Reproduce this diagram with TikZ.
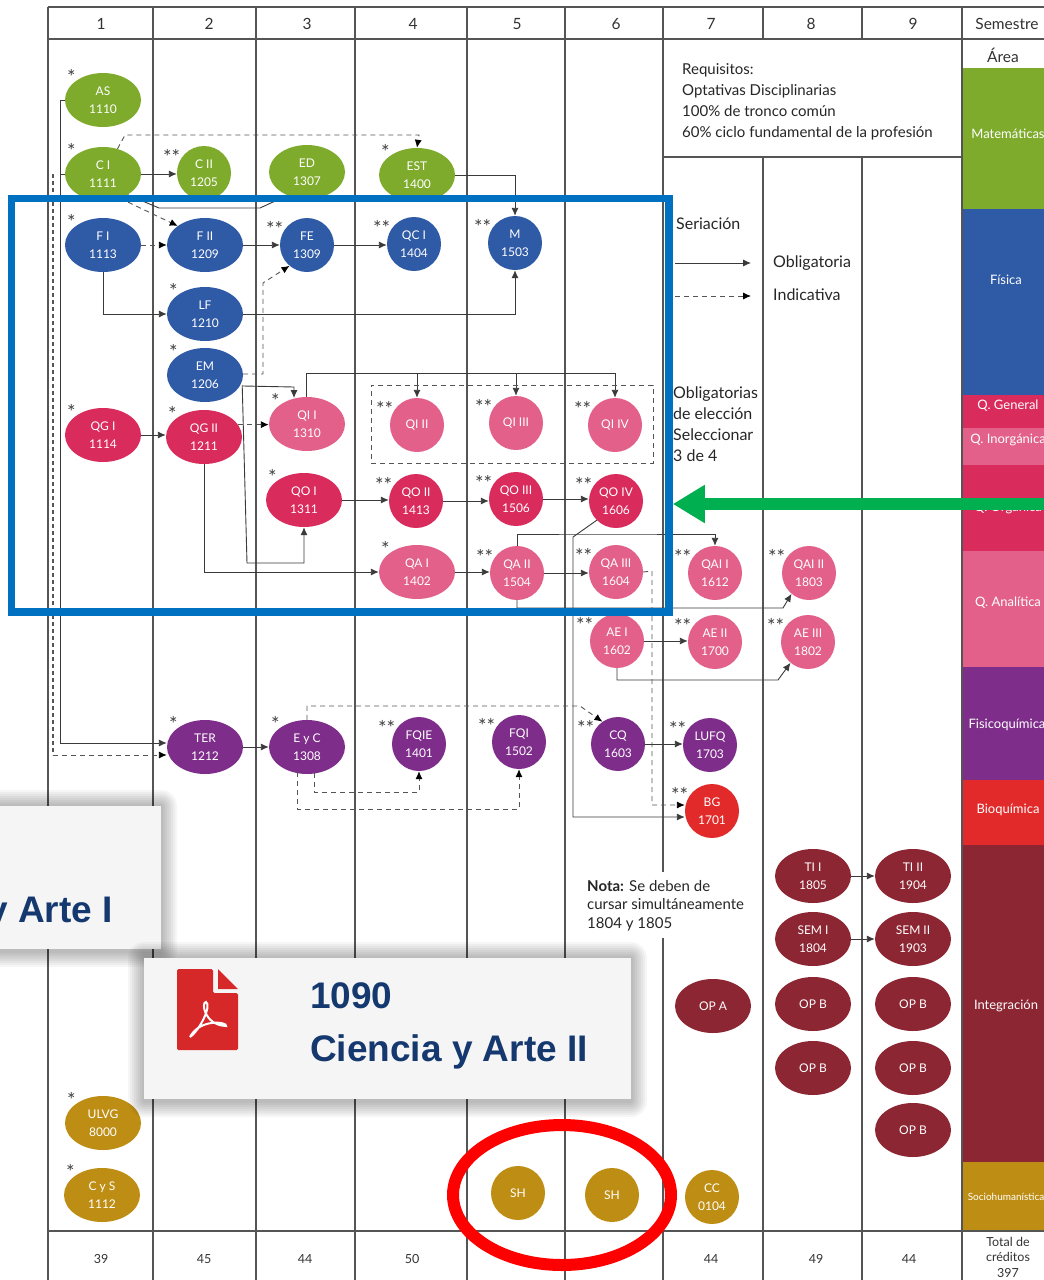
\documentclass[tikz,border=0pt]{standalone}
\usepackage{fontspec}
\setmainfont{Lato}
\newfontfamily\cardfont{Liberation Sans}
\usetikzlibrary{calc}
\usetikzlibrary{arrows.meta}
\usetikzlibrary{shapes.geometric}

\definecolor{matcol}{HTML}{7EAB2C}
\definecolor{fiscol}{HTML}{2F5AA6}
\definecolor{qgcol}{HTML}{D92B5C}
\definecolor{qpcol}{HTML}{E2608A}
\definecolor{fqcol}{HTML}{7E2E8A}
\definecolor{bqcol}{HTML}{E22A2B}
\definecolor{intcol}{HTML}{8C2633}
\definecolor{socol}{HTML}{BE8E14}
\definecolor{gridcol}{HTML}{555555}
\definecolor{linecol}{HTML}{3A3A3A}
\definecolor{cardtxt}{HTML}{15396F}
\definecolor{focusblue}{HTML}{0070C0}
\definecolor{focusgreen}{HTML}{00B050}

\tikzset{
    gridline/.style={gridcol, line width=1.2pt},
    oblig/.style={linecol, line width=0.9pt, -{Latex[length=8pt,width=7pt]}},
    indic/.style={gridcol, line width=0.9pt, dash pattern=on 5pt off 4pt, -{Latex[length=8pt,width=7pt,black]}},
    plainline/.style={linecol, line width=0.9pt},
    wideov/.style={ellipse, minimum width=76pt, minimum height=54pt, inner sep=0pt, text=white, align=center, font=\fontsize{12}{18.5}\selectfont},
    roundov/.style={wideov, minimum width=54pt},
    stars/.style={font=\fontsize{20}{20}\selectfont, text=black!75, inner sep=0pt},
    onestar/.style={label={[stars, label distance=-3pt]150:*}},
    twostar/.style={label={[stars, label distance=-2pt]160:**}},
    headtxt/.style={inner sep=0pt, text=black!80, font=\fontsize{15.5}{15.5}\selectfont},
    sumtxt/.style={inner sep=0pt, text=black!80, font=\fontsize{12.5}{12.5}\selectfont},
    areatxt/.style={inner sep=0pt, text=white, font=\fontsize{13}{13}\selectfont},
    notetxt/.style={inner sep=0pt, anchor=north west, align=left, text=black!85},
    cardbox/.style={rectangle, fill=black!4, inner sep=0pt},
    cardlbl/.style={inner sep=0pt, text=cardtxt, font=\cardfont\bfseries\fontsize{37}{37}\selectfont}
}

\newcommand{\cardshade}[4]{%
    \foreach \sh in {2,4,...,16}{
        \fill[black, opacity=0.035, rounded corners=\sh pt] ({#1-\sh},{#2-\sh}) rectangle ({#3+\sh},{#4+\sh+2});
    }}

\begin{document}
\begin{tikzpicture}[x=1pt,y=-1pt]
        \fill[white] (0,0) rectangle (1044,1280);
        \clip (0,0) rectangle (1044,1280);

        \fill[matcol] (962,68) rectangle (1044,209);
        \fill[fiscol] (962,209) rectangle (1044,395);
        \fill[qgcol] (962,395) rectangle (1044,428);
        \fill[qpcol] (962,428) rectangle (1044,465);
        \fill[qgcol] (962,465) rectangle (1044,551);
        \fill[qpcol] (962,551) rectangle (1044,667);
        \fill[fqcol] (962,667) rectangle (1044,780);
        \fill[bqcol] (962,780) rectangle (1044,845);
        \fill[intcol] (962,845) rectangle (1044,1162);
        \fill[socol] (962,1162) rectangle (1044,1232);

        \draw[gridline] (48,7) -- (1044,7);
        \draw[gridline] (48,39) -- (1044,39);
        \draw[gridline] (48,1231) -- (1044,1231);
        \draw[gridline] (663,157) -- (962,157);
        \draw[gridline] (48,7) -- (48,1280);
        \draw[gridline] (153,7) -- (153,1280);
        \draw[gridline] (256,7) -- (256,1280);
        \draw[gridline] (355,7) -- (355,1280);
        \draw[gridline] (467,7) -- (467,1280);
        \draw[gridline] (565,7) -- (565,1280);
        \draw[gridline] (663,7) -- (663,872);
        \draw[gridline] (663,938) -- (663,1280);
        \draw[gridline] (763,7) -- (763,39);
        \draw[gridline] (763,157) -- (763,1280);
        \draw[gridline] (862,7) -- (862,39);
        \draw[gridline] (862,157) -- (862,1280);
        \draw[gridline] (962,7) -- (962,1280);

        \node[headtxt] at (101,24) (semone) {1};
        \node[headtxt] at (209,24) (semtwo) {2};
        \node[headtxt] at (307,24) (semthree) {3};
        \node[headtxt] at (413,24) (semfour) {4};
        \node[headtxt] at (517,24) (semfive) {5};
        \node[headtxt] at (616,24) (semsix) {6};
        \node[headtxt] at (711,24) (semseven) {7};
        \node[headtxt] at (811,24) (semeight) {8};
        \node[headtxt] at (913,24) (semnine) {9};
        \node[headtxt] at (1007,24) (semestre) {Semestre};
        \node[headtxt] at (1003,55) (area) {Área};

        \node[areatxt] at (1008,134) (amat) {Matemáticas};
        \node[areatxt] at (1006,280) (afis) {Física};
        \node[areatxt] at (1008,406) (aqg) {Q. General};
        \node[areatxt] at (1008,440) (aqi) {Q. Inorgánica};
        \node[areatxt] at (1008,508) (aqo) {Q. Orgánica};
        \node[areatxt] at (1008,603) (aqa) {Q. Analítica};
        \node[areatxt] at (1007,725) (afq) {Fisicoquímica};
        \node[areatxt] at (1008,810) (abq) {Bioquímica};
        \node[areatxt] at (1006,1006) (aint) {Integración};
        \node[areatxt, font=\fontsize{10}{10}\selectfont] at (1006,1197) (asoc) {Sociohumanística};

        \node[sumtxt] at (101,1259) (sumone) {39};
        \node[sumtxt] at (204,1259) (sumtwo) {45};
        \node[sumtxt] at (305,1259) (sumthree) {44};
        \node[sumtxt] at (412,1259) (sumfour) {50};
        \node[sumtxt] at (711,1259) (sumseven) {44};
        \node[sumtxt] at (816,1259) (sumeight) {49};
        \node[sumtxt] at (909,1259) (sumnine) {44};
        \node[sumtxt, align=center, font=\fontsize{12.5}{15.5}\selectfont] at (1008,1257) (total) {Total de\\créditos\\397};

        \node[notetxt, font=\fontsize{15}{21}\selectfont] at (682,63) (requisitos) {Requisitos:\\Optativas Disciplinarias\\100\% de tronco común\\60\% ciclo fundamental de la profesión};
        \node[notetxt, font=\fontsize{16}{16}\selectfont] at (676,218) (seriacion) {Seriación};
        \node[notetxt, font=\fontsize{16}{16}\selectfont] at (773,256) (obligatoria) {Obligatoria};
        \node[notetxt, font=\fontsize{16}{16}\selectfont] at (773,289) (indicativa) {Indicativa};
        \node[notetxt, font=\fontsize{16}{20.7}\selectfont] at (673,387) (eleccion) {Obligatorias\\de elección\\Seleccionar\\3 de 4};
        \node[notetxt, font=\fontsize{15}{18.5}\selectfont] at (587,880) (nota) {\textbf{Nota:} Se deben de\\cursar simultáneamente\\1804 y 1805};

        \node[wideov,fill=matcol,onestar] at (103,100) (as) {AS\\1110};
        \node[wideov,fill=matcol,onestar] at (103,174) (ci) {C I\\1111};
        \node[roundov,fill=matcol,twostar] at (204,173) (cii) {C II\\1205};
        \node[wideov,fill=matcol] at (307,172) (ed) {ED\\1307};
        \node[wideov,fill=matcol,onestar] at (417,175) (est) {EST\\1400};

        \node[wideov,fill=fiscol,onestar] at (103,245) (fi) {F I\\1113};
        \node[wideov,fill=fiscol] at (205,245) (fii) {F II\\1209};
        \node[roundov,fill=fiscol,twostar] at (307,245) (fe) {FE\\1309};
        \node[roundov,fill=fiscol,twostar] at (414,244) (qci) {QC I\\1404};
        \node[roundov,fill=fiscol,twostar] at (515,243) (m) {M\\1503};
        \node[wideov,fill=fiscol,onestar] at (205,314) (lf) {LF\\1210};
        \node[wideov,fill=fiscol,onestar] at (205,375) (em) {EM\\1206};

        \node[wideov,fill=qgcol,onestar] at (103,435) (qgi) {QG I\\1114};
        \node[wideov,fill=qgcol,onestar] at (204,437) (qgii) {QG II\\1211};
        \node[wideov,fill=qpcol,onestar] at (307,424) (qii) {QI I\\1310};
        \node[roundov,fill=qpcol,twostar] at (417,425) (qiii) {QI II};
        \node[roundov,fill=qpcol,twostar] at (516,423) (qiiii) {QI III};
        \node[roundov,fill=qpcol,twostar] at (615,425) (qiiv) {QI IV};

        \node[wideov,fill=qgcol,onestar] at (304,500) (qoi) {QO I\\1311};
        \node[roundov,fill=qgcol,twostar] at (416,501) (qoii) {QO II\\1413};
        \node[roundov,fill=qgcol,twostar] at (516,499) (qoiii) {QO III\\1506};
        \node[roundov,fill=qgcol,twostar] at (616,501) (qoiv) {QO IV\\1606};

        \node[wideov,fill=qpcol,onestar] at (417,572) (qai) {QA I\\1402};
        \node[roundov,fill=qpcol,twostar] at (517,573) (qaii) {QA II\\1504};
        \node[roundov,fill=qpcol,twostar] at (616,572) (qaiii) {QA III\\1604};
        \node[roundov,fill=qpcol,twostar] at (715,573) (qaIi) {QAI I\\1612};
        \node[roundov,fill=qpcol,twostar] at (809,573) (qaIii) {QAI II\\1803};
        \node[roundov,fill=qpcol,twostar] at (617,641) (aei) {AE I\\1602};
        \node[roundov,fill=qpcol,twostar] at (715,642) (aeii) {AE II\\1700};
        \node[roundov,fill=qpcol,twostar] at (808,642) (aeiii) {AE III\\1802};

        \node[wideov,fill=fqcol,onestar] at (205,747) (ter) {TER\\1212};
        \node[wideov,fill=fqcol,onestar] at (307,747) (eyc) {E y C\\1308};
        \node[roundov,fill=fqcol,twostar] at (419,744) (fqie) {FQIE\\1401};
        \node[roundov,fill=fqcol,twostar] at (519,742) (fqi) {FQI\\1502};
        \node[roundov,fill=fqcol,twostar] at (618,744) (cq) {CQ\\1603};
        \node[roundov,fill=fqcol,twostar] at (710,745) (lufq) {LUFQ\\1703};
        \node[roundov,fill=bqcol,twostar] at (712,811) (bg) {BG\\1701};

        \node[wideov,fill=intcol] at (813,876) (tii) {TI I\\1805};
        \node[wideov,fill=intcol] at (913,876) (tiii) {TI II\\1904};
        \node[wideov,fill=intcol] at (813,939) (semi) {SEM I\\1804};
        \node[wideov,fill=intcol] at (913,939) (semii) {SEM II\\1903};
        \node[wideov,fill=intcol] at (713,1006) (opa) {OP A};
        \node[wideov,fill=intcol] at (813,1004) (opbone) {OP B};
        \node[wideov,fill=intcol] at (913,1004) (opbtwo) {OP B};
        \node[wideov,fill=intcol] at (813,1068) (opbthree) {OP B};
        \node[wideov,fill=intcol] at (913,1068) (opbfour) {OP B};
        \node[wideov,fill=intcol] at (913,1130) (opbfive) {OP B};

        \node[wideov,fill=socol,onestar] at (103,1123) (ulvg) {ULVG\\8000};
        \node[wideov,fill=socol,onestar] at (102,1195) (cys) {C y S\\1112};
        \node[roundov,fill=socol] at (518,1193) (shone) {SH};
        \node[roundov,fill=socol] at (612,1195) (shtwo) {SH};
        \node[roundov,fill=socol] at (712,1197) (cc) {CC\\0104};

        \coordinate (busline) at (60,743);
        \coordinate (busdash) at (53,755);
        \coordinate (qibus) at (306,373);

        \draw[oblig] (as.west) -| (busline) -- ($(ter.west)+(0,-4)$);
        \draw[plainline] (ci.west) -- (ci.west -| busline);
        \draw[gridcol, line width=1.8pt, dash pattern=on 4pt off 3pt] (ci.west -| busdash) -- (busdash);
        \draw[indic] (busdash) -- ($(ter.west)+(0,8)$);
        \draw[oblig] (ci) -- (ci -| cii.west);
        \draw[plainline] (ci.320) -- (159,208) -- (260,208) -- (ed.230);
        \draw[indic] (ci.60) -- (125,135) -- (419,135) -- (est.north);
        \draw[indic] (ci.305) -- (fii.145);
        \draw[oblig] (est.east) -| (m.north);

        \draw[indic] (fi) -- (fii);
        \draw[oblig] (fi.south) |- (lf.west);
        \draw[oblig] (fii) -- (fe);
        \draw[oblig] (fe) -- (fe -| qci.west);
        \draw[oblig] (lf.east) -| (m.south);
        \draw[indic] ($(em.east)+(0,-1)$) -- (263,374) -- (263,283) -- (fe.230);
        \draw[oblig] ($(em.east)+(0,11)$) -- (294,387) -- (294,398);
        \draw[oblig] ($(em.east)+(-1,10)$) -- (247,563) -- (304,563) -- (qoi.south);

        \draw[oblig] (qgi) -- (qgi -| qgii.west);
        \draw[indic] (qgii.20) -- (qgii.20 -| qii.west);
        \draw[oblig] (qgii.south) |- (qai.west);
        \draw[plainline] (qii.north -| qibus) -- (qibus) -- (qibus -| qiiv.north);
        \draw[oblig] (qibus -| qiii.north) -- (qiii.north);
        \draw[oblig] (qibus -| qiiii.north) -- (qiiii.north);
        \draw[oblig] (qibus -| qiiv.north) -- (qiiv.north);

        \draw[oblig] (qoi) -- (qoi -| qoii.west);
        \draw[oblig] (qoii) -- (qoii -| qoiii.west);
        \draw[oblig] (qoiii) -- (qoiii -| qoiv.west);
        \draw[oblig] (qai) -- (qai -| qaii.west);
        \draw[oblig] (qaii) -- (qaii -| qaiii.west);
        \draw[oblig] (qaii.north) |- (600,534) -| (qaIi.north);
        \draw[oblig] (qaii.south) |- (783,608) -- (qaIii.230);
        \draw[oblig] (aei) -- (aei -| aeii.west);
        \draw[oblig] (aei.south) |- (778,680) -- (aeiii.230);
        \draw[oblig] (qoiv.225) -- (573,537) -- (573,817) -- (bg.west |- 0,817);
        \draw[indic] (qaiii.east) -- (652,571) -- (652,805) -- (bg.west |- 0,805);

        \draw[oblig] (ter) -- (ter -| eyc.west);
        \draw[indic] (eyc.north) -- (307,706) -- (580,706) -- (cq.125);
        \draw[indic] ($(eyc.south)+(7,-1)$) -- (314,792) -- (419,792) -- (fqie.south);
        \draw[indic] ($(eyc.south)+(-10,-2)$) -- (297,809) -- (519,809) -- (fqi.south);
        \draw[oblig] (cq) -- (cq -| lufq.west);
        \draw[oblig] (tii) -- (tiii);
        \draw[oblig] (semi) -- (semii);

        \node[draw=gridcol, line width=0.9pt, dash pattern=on 5pt off 4pt, rectangle, minimum width=282pt, minimum height=78pt, inner sep=0pt] at (512,424) (qibox) {};

        \coordinate (legsolid) at (675,263);
        \coordinate (legsolidend) at (751,263);
        \coordinate (legdash) at (675,296);
        \coordinate (legdashend) at (751,296);
        \draw[oblig] (legsolid) -- (legsolidend);
        \draw[indic] (legdash) -- (legdashend);

        \cardshade{-20}{806}{161}{949}
        \node[cardbox, minimum width=181pt, minimum height=143pt] at (70.5,877.5) (cardone) {};
        \node[cardlbl, anchor=east] at (113,914) (cardonetxt) {y Arte I};

        \cardshade{144}{958}{631}{1099}
        \node[cardbox, minimum width=487pt, minimum height=141pt] at (387.5,1028.5) (cardtwo) {};
        \fill[bqcol!95!black, rounded corners=1.5pt] (177,969) -- (213,969) -- (213,993) -- (238,993) -- (238,1050) -- (177,1050) -- cycle;
        \fill[bqcol!95!black] (218,969) -- (238,989) -- (218,989) -- cycle;
        \draw[white, line width=2pt] (190,1037) .. controls (200,1030) and (212,1005) .. (206,1002) .. controls (201,1002) and (204,1025) .. (226,1026) .. controls (228,1022) and (200,1018) .. (190,1037);
        \node[cardlbl, anchor=west] at (310,996) (cardcode) {1090};
        \node[cardlbl, anchor=west] at (310,1052) (cardname) {Ciencia y Arte II};

        \node[draw=focusblue, rectangle, line width=7.5pt, inner sep=0pt, minimum width=657.5pt, minimum height=413.5pt] at (340.25,405.25) (focusbox) {};
        \coordinate (arrowstart) at (1050,504);
        \draw[focusgreen, line width=12pt, -{Triangle[length=32pt,width=36pt]}] (arrowstart) -- (focusbox.east |- arrowstart);
        \node[draw=red, ellipse, line width=12pt, inner sep=0pt, minimum width=218pt, minimum height=140pt] at (562,1195) (focusring) {};
\end{tikzpicture}
\end{document}
